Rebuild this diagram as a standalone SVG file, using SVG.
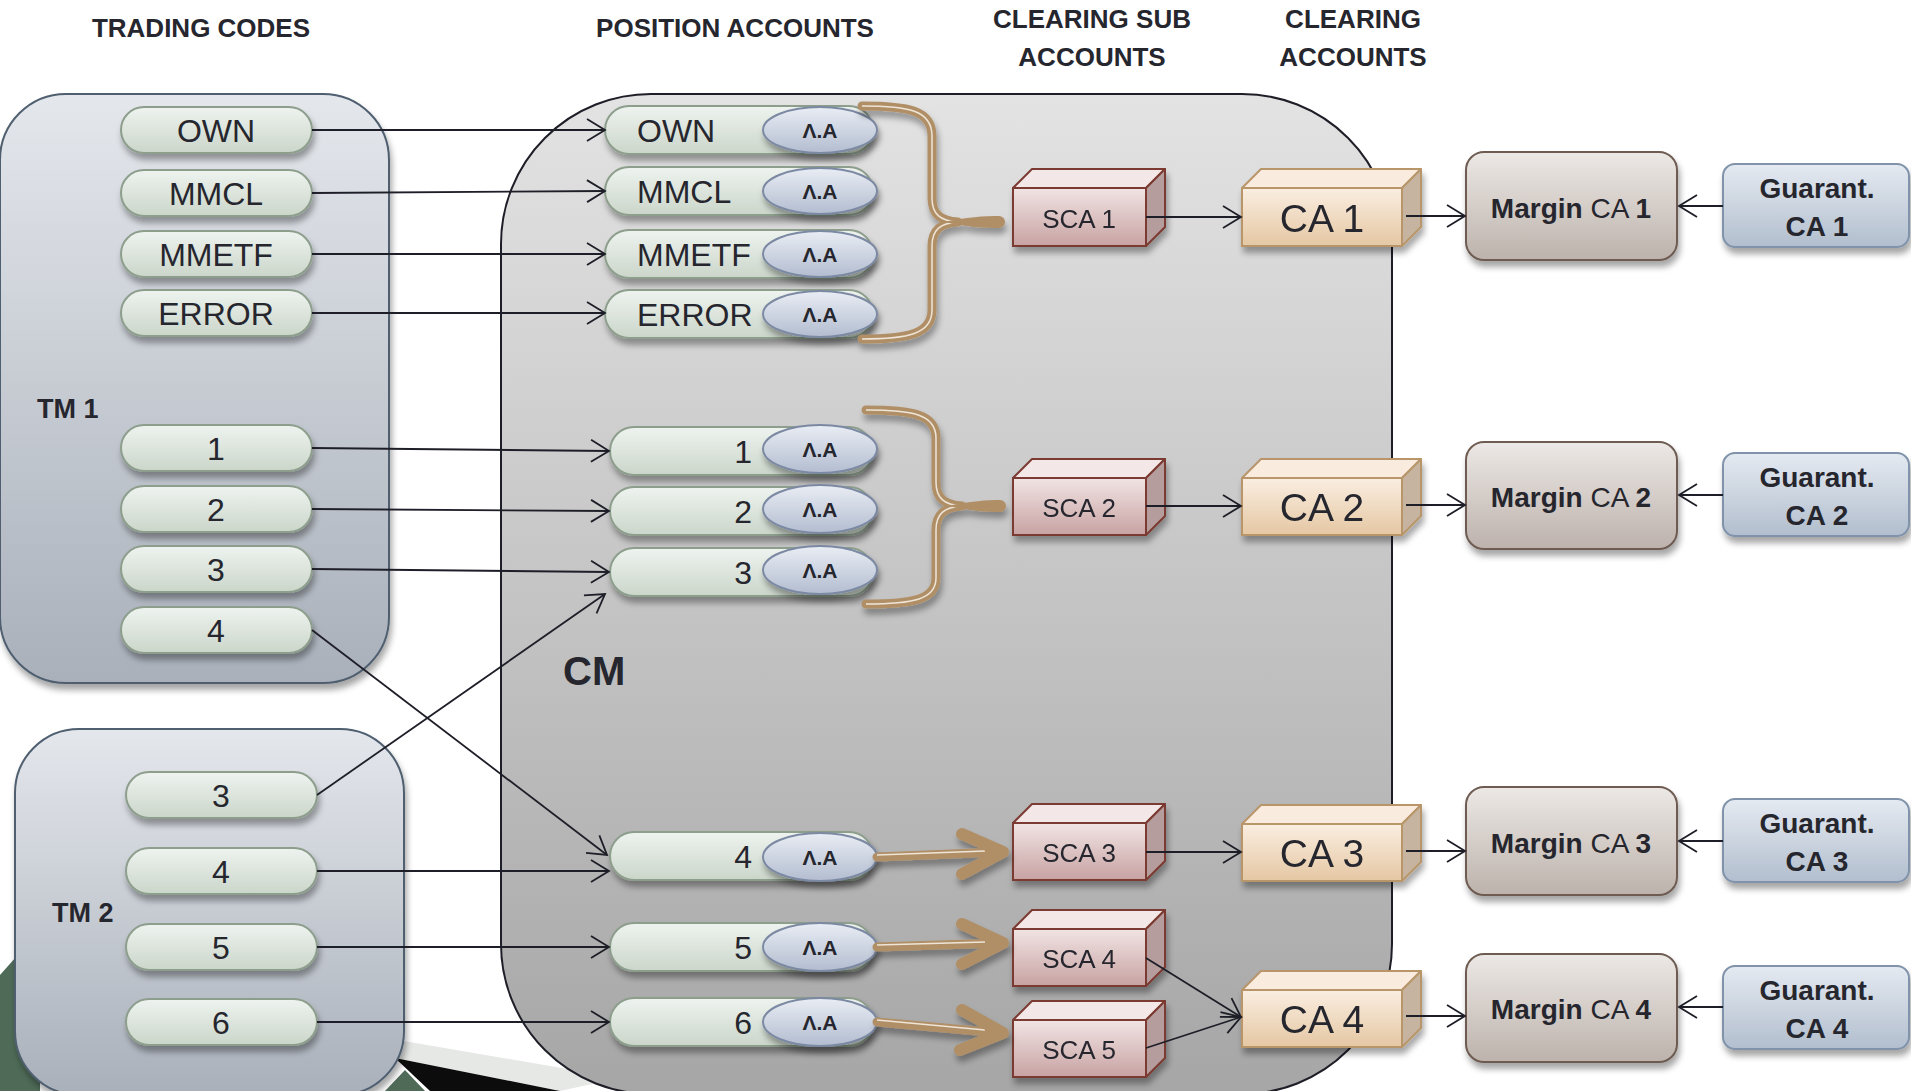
<svg xmlns="http://www.w3.org/2000/svg" width="1911" height="1091" viewBox="0 0 1911 1091">
<defs>
<linearGradient id="gTM" x1="0" y1="0" x2="0" y2="1"><stop offset="0" stop-color="#e4e7ec"/><stop offset="1" stop-color="#a9b0ba"/></linearGradient>
<linearGradient id="gCM" x1="0" y1="0" x2="0" y2="1"><stop offset="0" stop-color="#e3e3e3"/><stop offset="1" stop-color="#a6a6a6"/></linearGradient>
<linearGradient id="gPill" x1="0" y1="0" x2="0" y2="1"><stop offset="0" stop-color="#eef3ef"/><stop offset="1" stop-color="#cbd6ca"/></linearGradient>
<linearGradient id="gEll" x1="0" y1="0" x2="0" y2="1"><stop offset="0" stop-color="#e9edf4"/><stop offset="1" stop-color="#b3bdd0"/></linearGradient>
<linearGradient id="gSCA" x1="0" y1="0" x2="0" y2="1"><stop offset="0" stop-color="#f1e4e4"/><stop offset="1" stop-color="#c8a2a2"/></linearGradient>
<linearGradient id="gCA" x1="0" y1="0" x2="0" y2="1"><stop offset="0" stop-color="#faeee1"/><stop offset="1" stop-color="#e5c7a3"/></linearGradient>
<linearGradient id="gMar" x1="0" y1="0" x2="0" y2="1"><stop offset="0" stop-color="#ece8e5"/><stop offset="1" stop-color="#bdb2ac"/></linearGradient>
<linearGradient id="gGua" x1="0" y1="0" x2="0" y2="1"><stop offset="0" stop-color="#e5eaf1"/><stop offset="1" stop-color="#b2bece"/></linearGradient>
<filter id="sh" x="-20%" y="-20%" width="140%" height="160%"><feDropShadow dx="2" dy="6" stdDeviation="3" flood-color="#000" flood-opacity="0.35"/></filter>
<marker id="ah" markerUnits="userSpaceOnUse" markerWidth="22" markerHeight="26" refX="18" refY="11" orient="auto" viewBox="-2 -2 22 26"><path d="M0,0 L18,11 L0,22" fill="none" stroke="#1e1e28" stroke-width="1.8"/></marker>
</defs>
<style>
text{font-family:"Liberation Sans",Arial,sans-serif;fill:#26262e}
.hd{font-size:26px;font-weight:bold;text-anchor:middle}
.tm{fill:url(#gTM);stroke:#4f5f70;stroke-width:2;filter:url(#sh)}
.cm{fill:url(#gCM);stroke:#1e1e28;stroke-width:2}
.pill{fill:url(#gPill);stroke:#8d9e8d;stroke-width:2;filter:url(#sh)}
.ell{fill:url(#gEll);stroke:#7c89a3;stroke-width:2;filter:url(#sh)}
.pt{font-size:32px;text-anchor:middle}
.pl{font-size:32px}
.pr{font-size:32px;text-anchor:end}
.la{font-size:21px;font-weight:bold;text-anchor:middle}
.lbl{font-size:27px;font-weight:bold}
.scaF{fill:url(#gSCA);stroke:#7b3a30;stroke-width:2}
.scaT{fill:#f3e7e7;stroke:#7b3a30;stroke-width:2;stroke-linejoin:round}
.scaR{fill:#b59d9d;stroke:#7b3a30;stroke-width:2;stroke-linejoin:round}
.caF{fill:url(#gCA);stroke:#b8966a;stroke-width:2}
.caT{fill:#f9ecdf;stroke:#b8966a;stroke-width:2;stroke-linejoin:round}
.caR{fill:#c6b4a0;stroke:#b8966a;stroke-width:2;stroke-linejoin:round}
.sct{font-size:26px;text-anchor:middle}
.cat{font-size:39px;text-anchor:middle}
.mar{fill:url(#gMar);stroke:#6e5c52;stroke-width:2;filter:url(#sh)}
.gua{fill:url(#gGua);stroke:#8093aa;stroke-width:2;filter:url(#sh)}
.mt{font-size:28px;text-anchor:middle}
.gt{font-size:28px;font-weight:bold;text-anchor:middle}
.b{font-weight:bold}
.ln{stroke:#1e1e28;stroke-width:1.8;fill:none;marker-end:url(#ah)}
.br{fill:none;stroke:#b08f66;stroke-width:9;stroke-linecap:round}
.bri{fill:none;stroke:#eee5d8;stroke-width:1.5}
.tip{fill:#b08f66}
.chev{fill:none;stroke:#b08f66;stroke-width:12;stroke-linecap:round;stroke-linejoin:round}
</style>
<rect width="1911" height="1091" fill="#ffffff"/>

<g id="decor">
<polygon points="0,975 40,930 40,1091 0,1091" fill="#4f6b58"/>
<polygon points="385,1091 405,1070 425,1091" fill="#4f6b58"/>
<polygon points="398,1040 620,1078 560,1091 395,1058" fill="#e6e8e6"/>
<polygon points="395,1058 560,1091 430,1091" fill="#0c0c0c"/>
</g>

<g id="headers">
<text class="hd" x="201" y="37">TRADING CODES</text>
<text class="hd" x="735" y="37">POSITION ACCOUNTS</text>
<text class="hd" x="1092" y="28">CLEARING SUB</text>
<text class="hd" x="1092" y="66">ACCOUNTS</text>
<text class="hd" x="1353" y="28">CLEARING</text>
<text class="hd" x="1353" y="66">ACCOUNTS</text>
</g>

<g id="TM1">
<rect class="tm" x="0" y="94" width="389" height="589" rx="66" ry="66"/>
<text class="lbl" x="37" y="418">TM 1</text>
</g>
<g id="TM2">
<rect class="tm" x="15" y="729" width="389" height="366" rx="64" ry="64"/>
<text class="lbl" x="52" y="922">TM 2</text>
</g>
<g id="CM">
<rect class="cm" x="501" y="94" width="891" height="1000" rx="150" ry="150"/>
<text x="563" y="685" style="font-size:40px;font-weight:bold">CM</text>
</g>

<g id="trading-codes">
<g id="tc-own"><rect class="pill" x="121" y="107" width="191" height="46" rx="23"/><text class="pt" x="216" y="142">OWN</text></g>
<g id="tc-mmcl"><rect class="pill" x="121" y="170" width="191" height="46" rx="23"/><text class="pt" x="216" y="205">MMCL</text></g>
<g id="tc-mmetf"><rect class="pill" x="121" y="231" width="191" height="46" rx="23"/><text class="pt" x="216" y="266">MMETF</text></g>
<g id="tc-error"><rect class="pill" x="121" y="290" width="191" height="46" rx="23"/><text class="pt" x="216" y="325">ERROR</text></g>
<g id="tc-1-1"><rect class="pill" x="121" y="425" width="191" height="46" rx="23"/><text class="pt" x="216" y="460">1</text></g>
<g id="tc-1-2"><rect class="pill" x="121" y="486" width="191" height="46" rx="23"/><text class="pt" x="216" y="521">2</text></g>
<g id="tc-1-3"><rect class="pill" x="121" y="546" width="191" height="46" rx="23"/><text class="pt" x="216" y="581">3</text></g>
<g id="tc-1-4"><rect class="pill" x="121" y="607" width="191" height="46" rx="23"/><text class="pt" x="216" y="642">4</text></g>
<g id="tc-2-3"><rect class="pill" x="126" y="772" width="191" height="46" rx="23"/><text class="pt" x="221" y="807">3</text></g>
<g id="tc-2-4"><rect class="pill" x="126" y="848" width="191" height="46" rx="23"/><text class="pt" x="221" y="883">4</text></g>
<g id="tc-2-5"><rect class="pill" x="126" y="924" width="191" height="46" rx="23"/><text class="pt" x="221" y="959">5</text></g>
<g id="tc-2-6"><rect class="pill" x="126" y="999" width="191" height="46" rx="23"/><text class="pt" x="221" y="1034">6</text></g>
</g>

<g id="position-accounts">
<g id="pa-own"><rect class="pill" x="605" y="106" width="268" height="48" rx="24"/><text class="pl" x="637" y="142">OWN</text><ellipse class="ell" cx="820" cy="130" rx="57" ry="23"/><text class="la" x="820" y="138">Λ.Α</text></g>
<g id="pa-mmcl"><rect class="pill" x="605" y="167" width="268" height="48" rx="24"/><text class="pl" x="637" y="203">MMCL</text><ellipse class="ell" cx="820" cy="191" rx="57" ry="23"/><text class="la" x="820" y="199">Λ.Α</text></g>
<g id="pa-mmetf"><rect class="pill" x="605" y="230" width="268" height="48" rx="24"/><text class="pl" x="637" y="266">MMETF</text><ellipse class="ell" cx="820" cy="254" rx="57" ry="23"/><text class="la" x="820" y="262">Λ.Α</text></g>
<g id="pa-error"><rect class="pill" x="605" y="290" width="268" height="48" rx="24"/><text class="pl" x="637" y="326">ERROR</text><ellipse class="ell" cx="820" cy="314" rx="57" ry="23"/><text class="la" x="820" y="322">Λ.Α</text></g>
<g id="pa-1"><rect class="pill" x="610" y="427" width="263" height="48" rx="24"/><text class="pr" x="752" y="463">1</text><ellipse class="ell" cx="820" cy="449" rx="57" ry="24"/><text class="la" x="820" y="457">Λ.Α</text></g>
<g id="pa-2"><rect class="pill" x="610" y="487" width="263" height="48" rx="24"/><text class="pr" x="752" y="523">2</text><ellipse class="ell" cx="820" cy="509" rx="57" ry="24"/><text class="la" x="820" y="517">Λ.Α</text></g>
<g id="pa-3"><rect class="pill" x="610" y="548" width="263" height="48" rx="24"/><text class="pr" x="752" y="584">3</text><ellipse class="ell" cx="820" cy="570" rx="57" ry="24"/><text class="la" x="820" y="578">Λ.Α</text></g>
<g id="pa-4"><rect class="pill" x="610" y="832" width="263" height="48" rx="24"/><text class="pr" x="752" y="868">4</text><ellipse class="ell" cx="820" cy="857" rx="57" ry="24"/><text class="la" x="820" y="865">Λ.Α</text></g>
<g id="pa-5"><rect class="pill" x="610" y="923" width="263" height="48" rx="24"/><text class="pr" x="752" y="959">5</text><ellipse class="ell" cx="820" cy="947" rx="57" ry="24"/><text class="la" x="820" y="955">Λ.Α</text></g>
<g id="pa-6"><rect class="pill" x="610" y="998" width="263" height="48" rx="24"/><text class="pr" x="752" y="1034">6</text><ellipse class="ell" cx="820" cy="1022" rx="57" ry="24"/><text class="la" x="820" y="1030">Λ.Α</text></g>
</g>

<g id="sub-accounts">
<g id="sca1" filter="url(#sh)"><polygon class="scaT" points="1013,188 1032,169 1165,169 1146,188"/><polygon class="scaR" points="1146,188 1165,169 1165,227 1146,246"/><rect class="scaF" x="1013" y="188" width="133" height="58"/><text class="sct" x="1079" y="228">SCA 1</text></g>
<g id="sca2" filter="url(#sh)"><polygon class="scaT" points="1013,478 1032,459 1165,459 1146,478"/><polygon class="scaR" points="1146,478 1165,459 1165,516 1146,535"/><rect class="scaF" x="1013" y="478" width="133" height="57"/><text class="sct" x="1079" y="517">SCA 2</text></g>
<g id="sca3" filter="url(#sh)"><polygon class="scaT" points="1013,823 1032,804 1165,804 1146,823"/><polygon class="scaR" points="1146,823 1165,804 1165,861 1146,880"/><rect class="scaF" x="1013" y="823" width="133" height="57"/><text class="sct" x="1079" y="862">SCA 3</text></g>
<g id="sca4" filter="url(#sh)"><polygon class="scaT" points="1013,929 1032,910 1165,910 1146,929"/><polygon class="scaR" points="1146,929 1165,910 1165,967 1146,986"/><rect class="scaF" x="1013" y="929" width="133" height="57"/><text class="sct" x="1079" y="968">SCA 4</text></g>
<g id="sca5" filter="url(#sh)"><polygon class="scaT" points="1013,1020 1032,1001 1165,1001 1146,1020"/><polygon class="scaR" points="1146,1020 1165,1001 1165,1058 1146,1077"/><rect class="scaF" x="1013" y="1020" width="133" height="57"/><text class="sct" x="1079" y="1059">SCA 5</text></g>
</g>

<g id="clearing-accounts">
<g id="ca1" filter="url(#sh)"><polygon class="caT" points="1242,188 1261,169 1421,169 1402,188"/><polygon class="caR" points="1402,188 1421,169 1421,227 1402,246"/><rect class="caF" x="1242" y="188" width="160" height="58"/><text class="cat" x="1322" y="232">CA 1</text></g>
<g id="ca2" filter="url(#sh)"><polygon class="caT" points="1242,478 1261,459 1421,459 1402,478"/><polygon class="caR" points="1402,478 1421,459 1421,516 1402,535"/><rect class="caF" x="1242" y="478" width="160" height="57"/><text class="cat" x="1322" y="521">CA 2</text></g>
<g id="ca3" filter="url(#sh)"><polygon class="caT" points="1242,824 1261,805 1421,805 1402,824"/><polygon class="caR" points="1402,824 1421,805 1421,862 1402,881"/><rect class="caF" x="1242" y="824" width="160" height="57"/><text class="cat" x="1322" y="867">CA 3</text></g>
<g id="ca4" filter="url(#sh)"><polygon class="caT" points="1242,990 1261,971 1421,971 1402,990"/><polygon class="caR" points="1402,990 1421,971 1421,1028 1402,1047"/><rect class="caF" x="1242" y="990" width="160" height="57"/><text class="cat" x="1322" y="1033">CA 4</text></g>
</g>

<g id="margin-accounts">
<g id="m1"><rect class="mar" x="1466" y="152" width="211" height="108" rx="18"/><text class="mt" x="1571" y="218"><tspan class="b">Margin</tspan> CA <tspan class="b">1</tspan></text></g>
<g id="m2"><rect class="mar" x="1466" y="442" width="211" height="107" rx="18"/><text class="mt" x="1571" y="507"><tspan class="b">Margin</tspan> CA <tspan class="b">2</tspan></text></g>
<g id="m3"><rect class="mar" x="1466" y="787" width="211" height="108" rx="18"/><text class="mt" x="1571" y="853"><tspan class="b">Margin</tspan> CA <tspan class="b">3</tspan></text></g>
<g id="m4"><rect class="mar" x="1466" y="954" width="211" height="108" rx="18"/><text class="mt" x="1571" y="1019"><tspan class="b">Margin</tspan> CA <tspan class="b">4</tspan></text></g>
</g>

<g id="guarantee-accounts">
<g id="g1"><rect class="gua" x="1723" y="164" width="186" height="83" rx="12"/><text class="gt" x="1817" y="198">Guarant.</text><text class="gt" x="1817" y="236">CA 1</text></g>
<g id="g2"><rect class="gua" x="1723" y="453" width="186" height="83" rx="12"/><text class="gt" x="1817" y="487">Guarant.</text><text class="gt" x="1817" y="525">CA 2</text></g>
<g id="g3"><rect class="gua" x="1723" y="799" width="186" height="83" rx="12"/><text class="gt" x="1817" y="833">Guarant.</text><text class="gt" x="1817" y="871">CA 3</text></g>
<g id="g4"><rect class="gua" x="1723" y="966" width="186" height="83" rx="12"/><text class="gt" x="1817" y="1000">Guarant.</text><text class="gt" x="1817" y="1038">CA 4</text></g>
</g>

<g id="connectors">
<line class="ln" x1="312" y1="130" x2="605" y2="130"/>
<line class="ln" x1="312" y1="193" x2="605" y2="191"/>
<line class="ln" x1="312" y1="254" x2="605" y2="254"/>
<line class="ln" x1="312" y1="313" x2="605" y2="313"/>
<line class="ln" x1="312" y1="448" x2="609" y2="451"/>
<line class="ln" x1="312" y1="509" x2="609" y2="511"/>
<line class="ln" x1="312" y1="569" x2="609" y2="572"/>
<line class="ln" x1="312" y1="630" x2="607" y2="855"/>
<line class="ln" x1="317" y1="795" x2="605" y2="594"/>
<line class="ln" x1="317" y1="871" x2="609" y2="871"/>
<line class="ln" x1="317" y1="947" x2="609" y2="947"/>
<line class="ln" x1="317" y1="1022" x2="609" y2="1022"/>
<line class="ln" x1="1146" y1="217" x2="1241" y2="217"/>
<line class="ln" x1="1146" y1="506" x2="1241" y2="506"/>
<line class="ln" x1="1146" y1="852" x2="1241" y2="852"/>
<line class="ln" x1="1146" y1="958" x2="1241" y2="1017"/>
<line class="ln" x1="1146" y1="1048" x2="1241" y2="1017"/>
<line class="ln" x1="1406" y1="216" x2="1465" y2="216"/>
<line class="ln" x1="1406" y1="505" x2="1465" y2="505"/>
<line class="ln" x1="1406" y1="851" x2="1465" y2="851"/>
<line class="ln" x1="1406" y1="1016" x2="1465" y2="1016"/>
<line class="ln" x1="1723" y1="206" x2="1679" y2="206"/>
<line class="ln" x1="1723" y1="495" x2="1679" y2="495"/>
<line class="ln" x1="1723" y1="841" x2="1679" y2="841"/>
<line class="ln" x1="1723" y1="1007" x2="1679" y2="1007"/>
<g id="brace1" filter="url(#sh)">
<path class="br" d="M862,106 C908,106 932,110 932,136 L932,198 C932,214 940,221 958,222 M958,222 C940,223 932,230 932,246 L932,310 C932,334 908,339 862,339"/>
<path class="bri" d="M862,106 C908,106 932,110 932,136 L932,198 C932,214 940,221 958,222 M958,222 C940,223 932,230 932,246 L932,310 C932,334 908,339 862,339"/>
<path class="tip" d="M945,222 C965,217 985,216 999,216 A6,6 0 0 1 999,228 C985,228 965,227 945,222 Z"/>
</g>
<g id="brace2" filter="url(#sh)">
<path class="br" d="M866,410 C912,410 936,414 936,438 L936,482 C936,498 944,505 962,506 M962,506 C944,507 936,514 936,530 L936,578 C936,600 912,604 866,604"/>
<path class="bri" d="M866,410 C912,410 936,414 936,438 L936,482 C936,498 944,505 962,506 M962,506 C944,507 936,514 936,530 L936,578 C936,600 912,604 866,604"/>
<path class="tip" d="M949,506 C969,501 988,500 1000,500 A6,6 0 0 1 1000,512 C988,512 969,511 949,506 Z"/>
</g>
<g id="fat-arrows" filter="url(#sh)">
<line class="br" x1="877" y1="857" x2="1000" y2="852"/>
<line class="bri" x1="877" y1="855" x2="985" y2="851"/>
<path class="chev" d="M962,834 L1003,852 L962,874"/>
<line class="br" x1="877" y1="947" x2="1000" y2="943"/>
<line class="bri" x1="877" y1="945" x2="985" y2="942"/>
<path class="chev" d="M962,924 L1003,943 L962,964"/>
<line class="br" x1="877" y1="1022" x2="1000" y2="1033"/>
<line class="bri" x1="877" y1="1020" x2="985" y2="1030"/>
<path class="chev" d="M962,1010 L1003,1033 L960,1050"/>
</g>
</g>
</svg>
